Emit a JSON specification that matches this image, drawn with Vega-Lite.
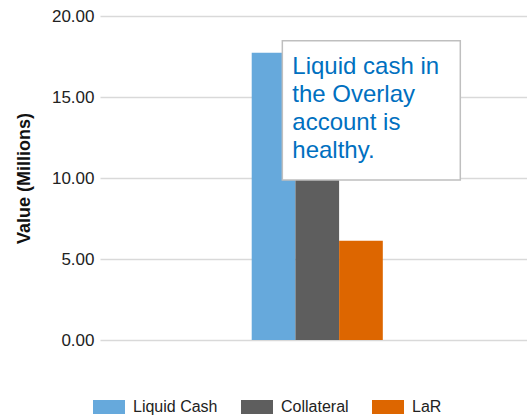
{
  "$schema": "https://vega.github.io/schema/vega-lite/v6.json",
  "width": 427,
  "height": 324,
  "autosize": "none",
  "padding": {"left": 100, "top": 16, "right": 0, "bottom": 78},
  "background": "white",
  "config": {"view": {"stroke": null}, "font": "Liberation Sans"},
  "data": {"values": [
    {"series": "Liquid Cash", "value": 17.73},
    {"series": "Collateral", "value": 13.0},
    {"series": "LaR", "value": 6.13}
  ]},
  "layer": [
    {
      "mark": {"type": "bar"},
      "encoding": {
        "x": {"datum": "Overlay", "type": "nominal",
              "scale": {"paddingInner": 0.1139, "paddingOuter": 1, "align": 0.5127}, "axis": null},
        "xOffset": {"field": "series", "type": "nominal", "sort": ["Liquid Cash", "Collateral", "LaR"],
                    "scale": {"paddingInner": 0, "paddingOuter": 0}},
        "y": {"field": "value", "type": "quantitative",
              "scale": {"domain": [0, 20], "nice": false},
              "axis": {"title": "Value (Millions)", "format": ".2f", "values": [0, 5, 10, 15, 20],
                       "domain": false, "ticks": false, "labelFontSize": 17, "labelColor": "#222222",
                       "labelPadding": 6, "gridColor": "#d9d9d9", "gridWidth": 1.5,
                       "titleFontSize": 18, "titleFontWeight": "bold", "titleColor": "#111111",
                       "titlePadding": 18}},
        "color": {"field": "series", "type": "nominal",
                  "scale": {"domain": ["Liquid Cash", "Collateral", "LaR"], "range": ["#66a9dc", "#5e5e5e", "#dd6600"]},
                  "legend": {"title": null, "orient": "none", "legendX": -7, "legendY": 375,
                             "direction": "horizontal",
                             "symbolType": "M-1,-0.4375L1,-0.4375L1,0.4375L-1,0.4375Z",
                             "symbolSize": 1024, "symbolStrokeWidth": 0, "symbolOpacity": 1,
                             "labelFontSize": 16, "labelColor": "#222222", "labelOffset": 8,
                             "columnPadding": 23}}
      }
    },
    {
      "data": {"values": [{}]},
      "mark": {"type": "rect", "fill": "white", "stroke": "#bfbfbf", "strokeWidth": 1.5},
      "encoding": {
        "x": {"datum": 0.427, "type": "quantitative", "scale": {"domain": [0, 1]}, "axis": null},
        "x2": {"datum": 0.8438},
        "y": {"datum": 18.475, "type": "quantitative"},
        "y2": {"datum": 9.877}
      }
    },
    {
      "data": {"values": [{}]},
      "mark": {"type": "text", "align": "left", "baseline": "alphabetic", "fontSize": 24, "lineHeight": 28,
               "color": "#0070c0", "text": ["Liquid cash in", "the Overlay", "account is", "healthy."]},
      "encoding": {
        "x": {"datum": 0.4504, "type": "quantitative", "scale": {"domain": [0, 1]}, "axis": null},
        "y": {"datum": 16.40, "type": "quantitative"}
      }
    }
  ],
  "resolve": {"scale": {"x": "independent"}}
}
